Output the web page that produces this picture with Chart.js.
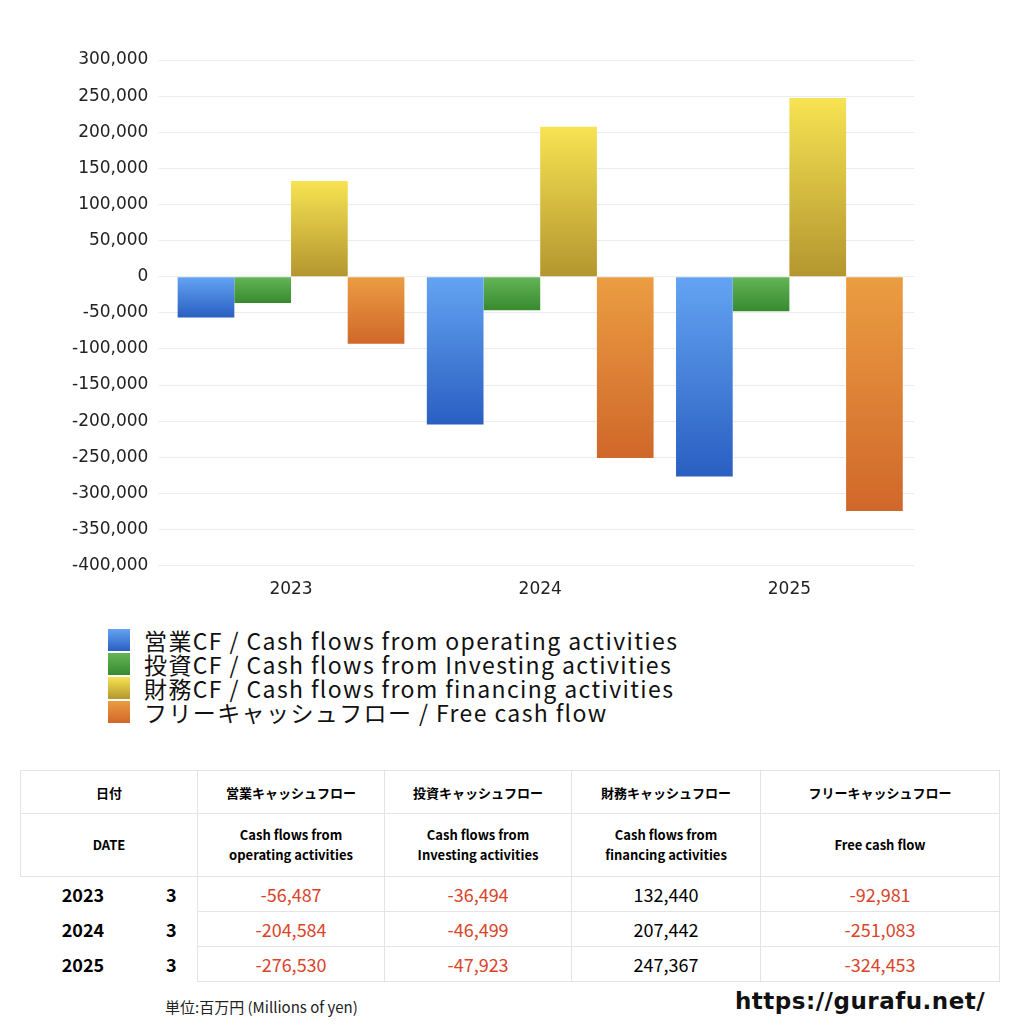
<!DOCTYPE html>
<html>
<head>
<meta charset="utf-8">
<script src="https://cdn.jsdelivr.net/npm/chart.js@4"></script>
<style>
  body { margin: 0; width: 1024px; height: 1024px; background: #fff; font-family: "Noto Sans CJK JP", sans-serif; position: relative; overflow: hidden; }
  #wrap { position: absolute; left: 0; top: 0; width: 1024px; height: 610px; }
  #legend { position: absolute; left: 108px; top: 628px; font-size: 23px; letter-spacing: 1.4px; color: #111; line-height: 24px; }
  #legend div { display: flex; align-items: center; }
  #legend span.box { width: 22px; height: 22px; margin-right: 14px; display: inline-block; }
  table { position: absolute; left: 20px; top: 770px; border-collapse: collapse; width: 980px; font-size: 13px; table-layout: fixed; }
  td { border: 1px solid #e4e4e4; text-align: center; padding: 0; }
  .h1 td { height: 42px; font-weight: bold; }
  .h2 td { height: 62px; font-weight: bold; line-height: 20px; }
  .d td { height: 34px; font-size: 18px; }
  .d td.y { font-weight: bold; border: none; text-align: center; }
  .neg { color: #d9442b; }
  #unit { position: absolute; left: 165px; top: 996px; font-size: 15px; color: #222; }
  #site { position: absolute; left: 735px; top: 988px; font-size: 23px; font-weight: bold; font-family: "DejaVu Sans", sans-serif; letter-spacing: 0.5px; color: #111; }
</style>
</head>
<body>
<div id="wrap"><canvas id="c"></canvas></div>
<div id="legend"></div>
<table id="tbl">
<colgroup><col style="width:125px"><col style="width:52px"><col style="width:187px"><col style="width:187px"><col style="width:189px"><col></colgroup>
<tbody id="tb"></tbody>
</table>
<div id="unit">単位:百万円 (Millions of yen)</div>
<div id="site">https://gurafu.net/</div>
<script>
const years = ['2023', '2024', '2025'];
const operating = [-56487, -204584, -276530];
const investing = [-36494, -46499, -47923];
const financing = [132440, 207442, 247367];
const freeCash = [-92981, -251083, -324453];

const seriesLabels = [
    '営業CF / Cash flows from operating activities',
    '投資CF / Cash flows from Investing activities',
    '財務CF / Cash flows from financing activities',
    'フリーキャッシュフロー / Free cash flow'
];
const colorPairs = [
    ['#64a3f2', '#2a5fc2'],
    ['#63b556', '#378a2e'],
    ['#f7e352', '#b3962f'],
    ['#eb9d42', '#d0672a']
];

// グラデーションは棒ごとに上から下へ
const barGradient = (pair) => (ctx) => {
    const chart = ctx.chart;
    const y = chart.scales.y;
    if (!y || ctx.parsed === undefined) return pair[0];
    const v = ctx.parsed.y;
    const top = y.getPixelForValue(Math.max(v, 0));
    const bottom = y.getPixelForValue(Math.min(v, 0));
    if (!isFinite(top) || !isFinite(bottom) || top === bottom) return pair[0];
    const g = chart.ctx.createLinearGradient(0, top, 0, bottom);
    g.addColorStop(0, pair[0]);
    g.addColorStop(1, pair[1]);
    return g;
};

const allSeries = [operating, investing, financing, freeCash];

new Chart(document.getElementById('c'), {
    type: 'bar',
    data: {
        labels: years,
        datasets: allSeries.map((d, i) => ({
            label: seriesLabels[i],
            data: d,
            backgroundColor: barGradient(colorPairs[i]),
            barPercentage: 1,
            categoryPercentage: 0.91
        }))
    },
    options: {
        responsive: true,
        maintainAspectRatio: false,
        animation: false,
        layout: { padding: { left: 62, right: 110, top: 60, bottom: 4 } },
        plugins: { legend: { display: false }, tooltip: { enabled: false } },
        scales: {
            x: {
                grid: { display: false },
                border: { display: false },
                ticks: { font: { family: 'DejaVu Sans', size: 17 }, color: '#222', padding: 6 }
            },
            y: {
                min: -400000, max: 300000,
                ticks: {
                    stepSize: 50000,
                    font: { family: 'DejaVu Sans', size: 17 }, color: '#222', padding: 10,
                    callback: v => v.toLocaleString('en-US')
                },
                grid: { color: '#ececec' },
                border: { display: false }
            }
        }
    }
});

const legendEl = document.getElementById('legend');
seriesLabels.forEach((l, i) => {
    const row = document.createElement('div');
    row.innerHTML = `<span class="box" style="background:linear-gradient(${colorPairs[i][0]},${colorPairs[i][1]})"></span>${l}`;
    legendEl.appendChild(row);
});

const fmt = v => v.toLocaleString('en-US');
const cell = v => `<td class="${v < 0 ? 'neg' : ''}">${fmt(v)}</td>`;
let html = `<tr class="h1"><td colspan="2">日付</td><td>営業キャッシュフロー</td><td>投資キャッシュフロー</td><td>財務キャッシュフロー</td><td>フリーキャッシュフロー</td></tr>`;
html += `<tr class="h2"><td colspan="2">DATE</td><td>Cash flows from<br>operating activities</td><td>Cash flows from<br>Investing activities</td><td>Cash flows from<br>financing activities</td><td>Free cash flow</td></tr>`;
years.forEach((y, i) => {
    html += `<tr class="d"><td class="y">${y}</td><td class="y" style="border-right:1px solid #e4e4e4">3</td>${cell(operating[i])}${cell(investing[i])}${cell(financing[i])}${cell(freeCash[i])}</tr>`;
});
document.getElementById('tb').innerHTML = html;
</script>
</body>
</html>
